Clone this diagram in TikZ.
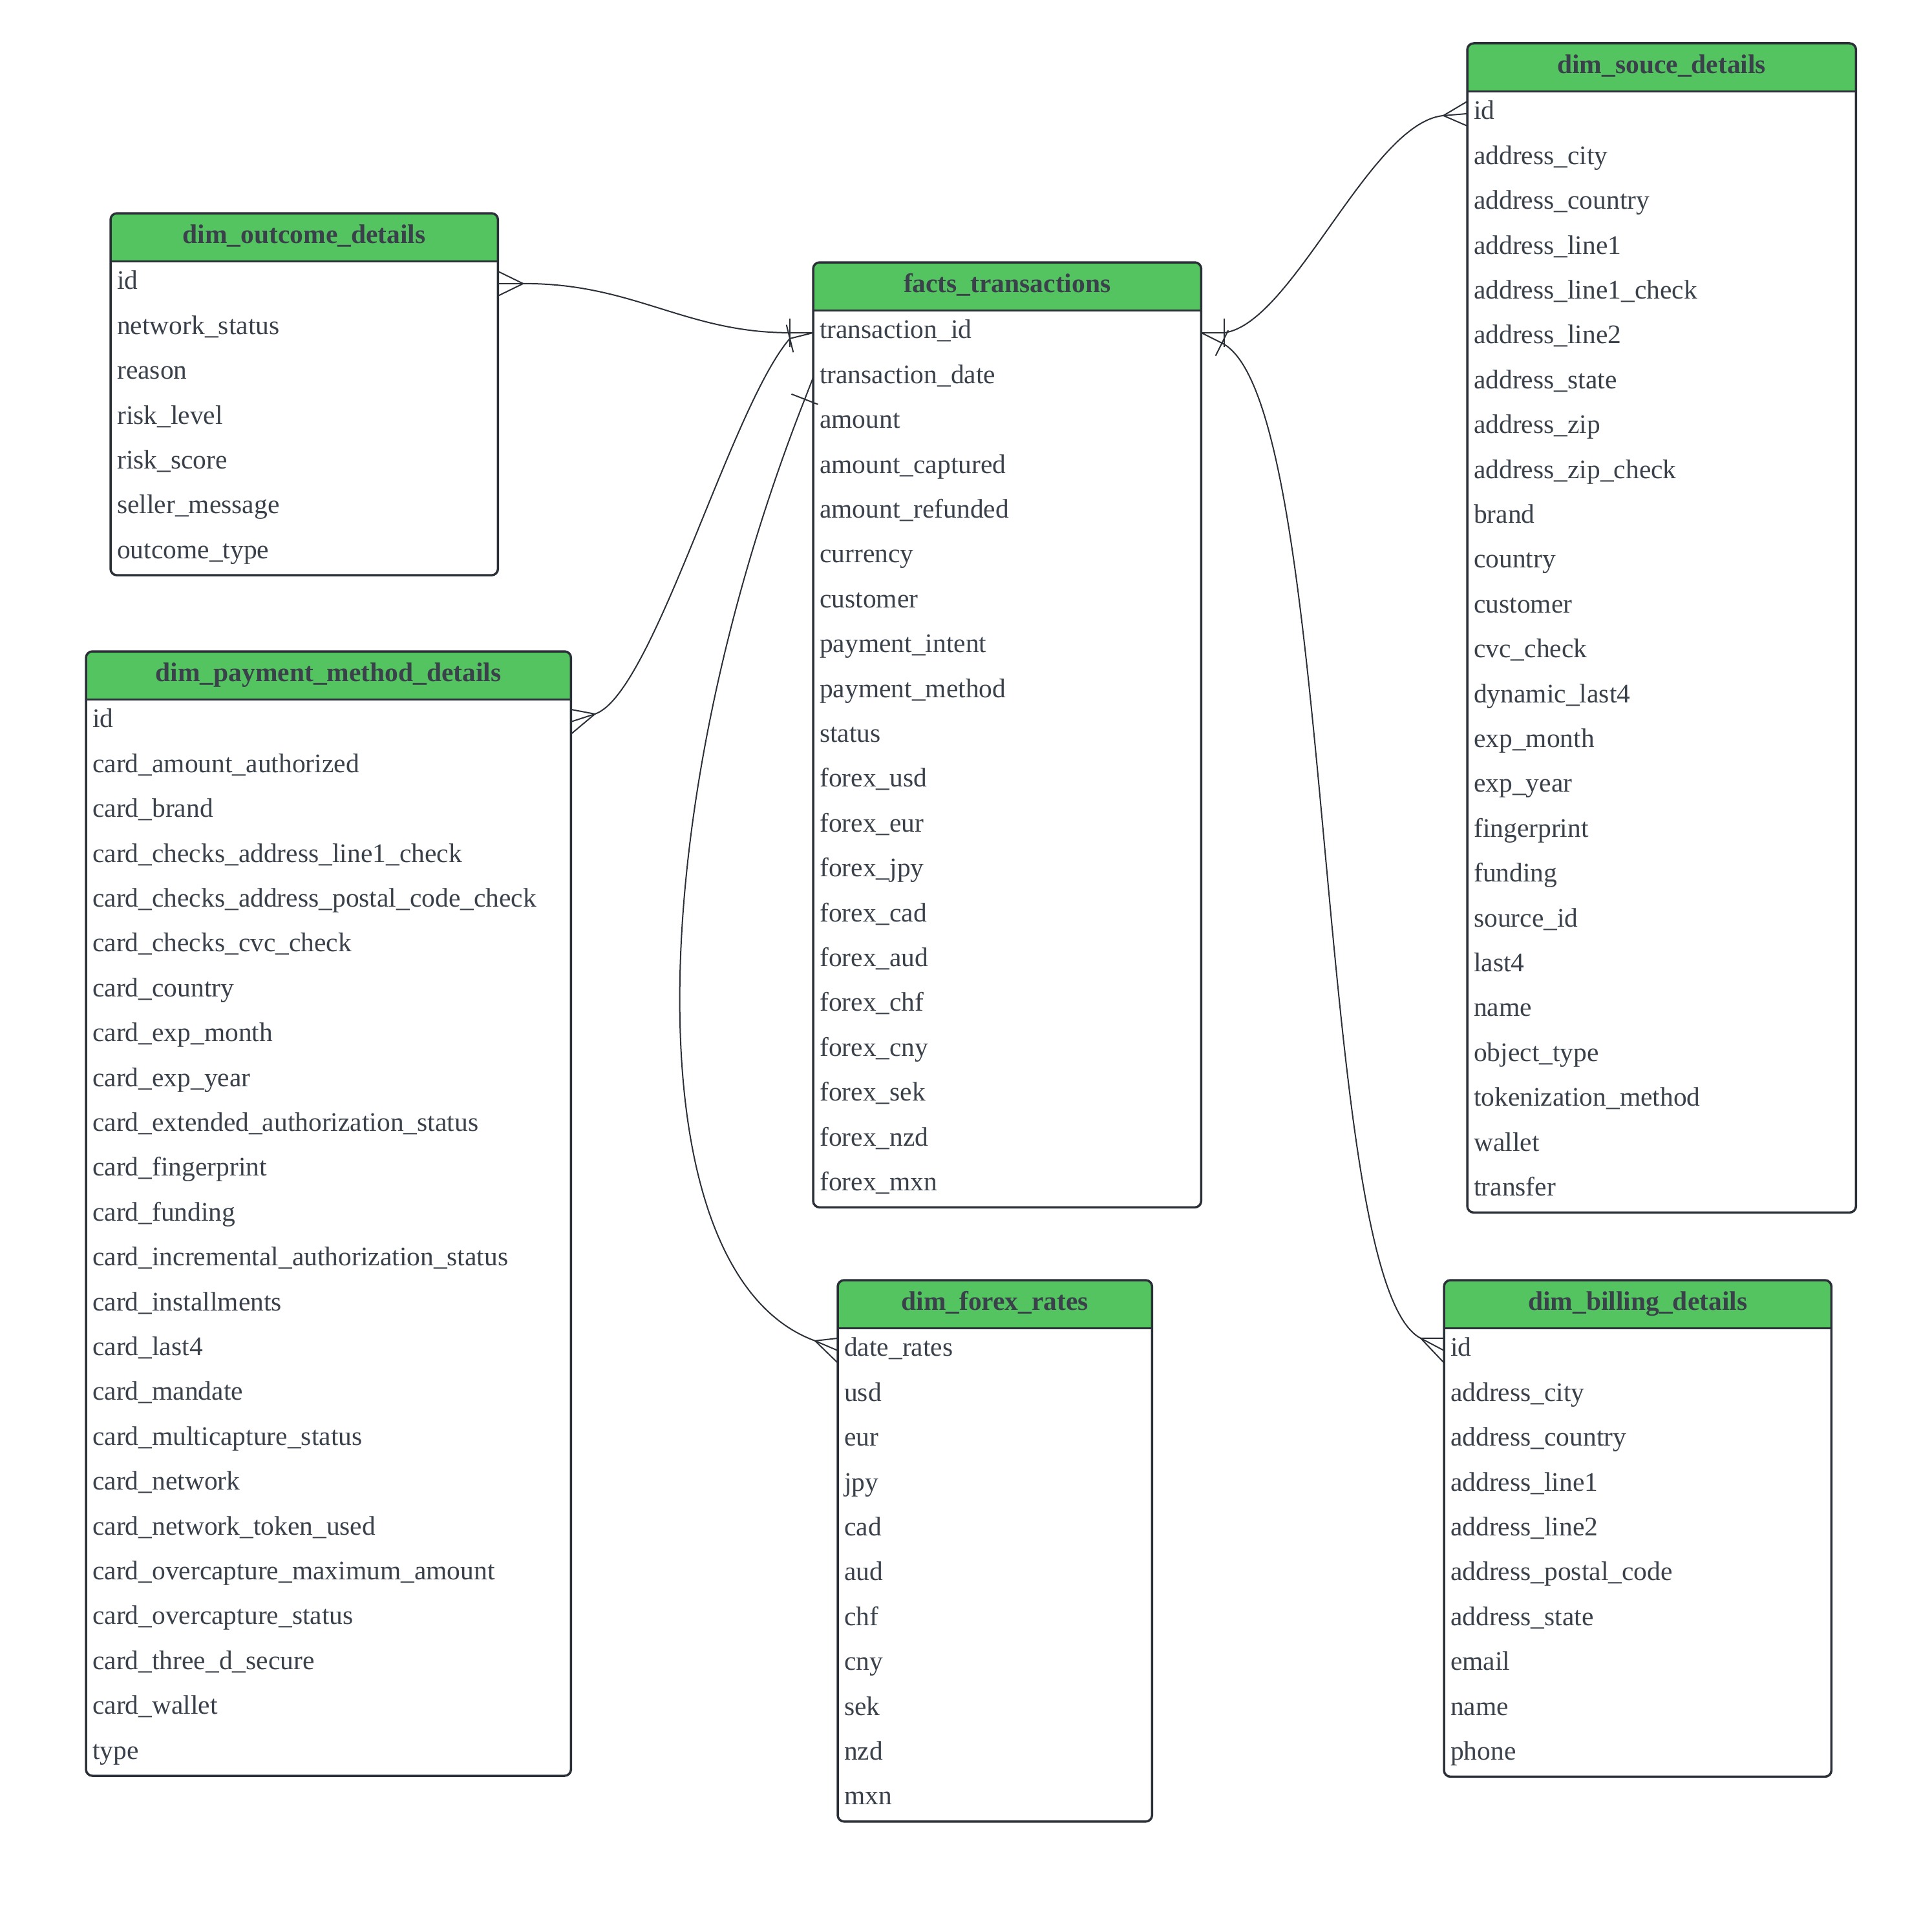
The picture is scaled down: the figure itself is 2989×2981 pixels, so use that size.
\documentclass[tikz,border=0pt]{standalone}
\usepackage{fontspec}
\setmainfont{Liberation Serif}
\usetikzlibrary{calc,backgrounds}
\definecolor{hdrgreen}{RGB}{83,196,96}
\definecolor{txtc}{HTML}{3A414A}
\definecolor{linec}{HTML}{2B3038}
\tikzset{
  fld/.style={inner xsep=10pt, inner ysep=0pt, minimum height=69.4pt, text height=27pt, text depth=9pt,
    align=left, font=\fontsize{41.5}{50}\selectfont, text=txtc},
  hdr/.style={fld, minimum height=74pt, align=center, font=\fontsize{41.5}{50}\selectfont\bfseries},
  frame/.style={draw=linec, line width=3.5pt},
  conn/.style={draw=linec, line width=2pt},
}
\newcommand{\ertable}[6]{%
  \pgfmathsetmacro{\tw}{#4-20}%
  \node[hdr, text width=\tw pt, anchor=north west] (#1-h) at (#2,-#3) {#5};
  \foreach \fname [count=\i] in {#6}{%
    \node[fld, text width=\tw pt, anchor=north west] (#1-\i) at ({#2},{-#3-74-(\i-1)*69.4}) {\fname};
    \xdef\lastrow{\i}}%
  \begin{scope}[on background layer]
    \fill[hdrgreen, rounded corners=10pt] (#1-h.north west) rectangle (#1-h.south east);
    \fill[hdrgreen] ($(#1-h.south west)+(0,20)$) rectangle (#1-h.south east);
  \end{scope}
  \draw[frame, rounded corners=10pt] (#1-h.north west) rectangle (#1-\lastrow.south east);
  \draw[frame] (#1-h.south west) -- (#1-h.south east);
}
% crow's foot: anchor, offset of convergence point, name
\newcommand{\crowfoot}[4]{%
  \coordinate (#4) at ($(#1)+(#2,#3)$);
  \draw[conn] (#1) -- (#4);
  \draw[conn] ($(#1)+(0,19)$) -- (#4) -- ($(#1)+(0,-19)$);
}
% one bar: anchor, offset of bar centre, half bar vector, name
\newcommand{\onebar}[6]{%
  \coordinate (#6) at ($(#1)+(#2,#3)$);
  \draw[conn] (#1) -- (#6);
  \draw[conn] ($(#6)+(#4,#5)$) -- ($(#6)-(#4,#5)$);
}
\begin{document}
\begin{tikzpicture}[x=1pt,y=1pt]
\useasboundingbox (0,0) rectangle (2989,-2981);

\ertable{outcome}{171}{330}{599}{dim\_outcome\_details}{id,network\_status,reason,risk\_level,risk\_score,seller\_message,outcome\_type}

\ertable{facts}{1258}{406}{600}{facts\_transactions}{transaction\_id,transaction\_date,amount,amount\_captured,amount\_refunded,currency,customer,payment\_intent,payment\_method,status,forex\_usd,forex\_eur,forex\_jpy,forex\_cad,forex\_aud,forex\_chf,forex\_cny,forex\_sek,forex\_nzd,forex\_mxn}

\ertable{souce}{2270}{67}{601}{dim\_souce\_details}{id,address\_city,address\_country,address\_line1,address\_line1\_check,address\_line2,address\_state,address\_zip,address\_zip\_check,brand,country,customer,cvc\_check,dynamic\_last4,exp\_month,exp\_year,fingerprint,funding,source\_id,last4,name,object\_type,tokenization\_method,wallet,transfer}

\ertable{payment}{133}{1008}{750}{dim\_payment\_method\_details}{id,card\_amount\_authorized,card\_brand,card\_checks\_address\_line1\_check,card\_checks\_address\_postal\_code\_check,card\_checks\_cvc\_check,card\_country,card\_exp\_month,card\_exp\_year,card\_extended\_authorization\_status,card\_fingerprint,card\_funding,card\_incremental\_authorization\_status,card\_installments,card\_last4,card\_mandate,card\_multicapture\_status,card\_network,card\_network\_token\_used,card\_overcapture\_maximum\_amount,card\_overcapture\_status,card\_three\_d\_secure,card\_wallet,type}

\ertable{forex}{1296}{1981}{486}{dim\_forex\_rates}{date\_rates,usd,eur,jpy,cad,aud,chf,cny,sek,nzd,mxn}

\ertable{billing}{2234}{1981}{599}{dim\_billing\_details}{id,address\_city,address\_country,address\_line1,address\_line2,address\_postal\_code,address\_state,email,name,phone}

% outcome -> facts
\crowfoot{outcome-1.east}{39}{0}{c1a}
\onebar{facts-1.west}{-36}{0}{0}{22}{c1b}
\draw[conn] (c1a) .. controls (980,-438) and (1060,-515) .. (c1b);

% payment -> facts
\crowfoot{payment-1.east}{37}{12}{c2a}
\onebar{facts-1.west}{-36}{-9}{-5.3}{21.3}{c2b}
\draw[conn] (c2a) .. controls (1010,-1075) and (1130,-630) .. (c2b);

% facts -> forex
\onebar{facts-2.west}{-13}{-33.5}{-20.5}{8}{c3a}
\crowfoot{forex-1.west}{-35}{15}{c3b}
\draw[conn] (c3a) .. controls (989,-1269) and (980,-1972) .. (c3b);

% facts -> souce
\onebar{facts-1.east}{36}{0}{0}{22}{c4a}
\crowfoot{souce-1.west}{-37}{-3}{c4b}
\draw[conn] (c4a) .. controls (2000,-500) and (2120,-190) .. (c4b);

% facts -> billing
\onebar{facts-1.east}{32}{-16}{9.8}{19.7}{c5a}
\crowfoot{billing-1.west}{-36}{19}{c5b}
\draw[conn] (c5a) .. controls (2070,-620) and (2030,-1985) .. (c5b);
\end{tikzpicture}
\end{document}
